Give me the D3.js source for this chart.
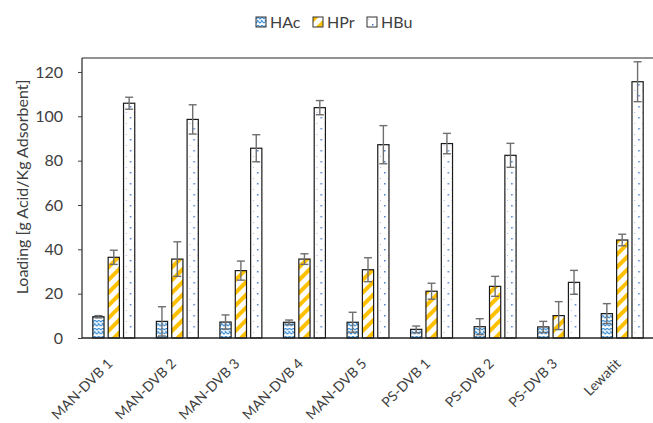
<!DOCTYPE html>
<html>
<head>
<meta charset="utf-8">
<script src="https://cdn.jsdelivr.net/npm/d3@7"></script>
<style>
  body { margin: 0; background: #fff; }
  text { font-family: Lato, "Open Sans", sans-serif; fill: #404040; }
</style>
</head>
<body>
<div id="chart"></div>
<script>
// data
let categories = ['MAN-DVB 1', 'MAN-DVB 2', 'MAN-DVB 3', 'MAN-DVB 4', 'MAN-DVB 5', 'PS-DVB 1', 'PS-DVB 2', 'PS-DVB 3', 'Lewatit'];
let seriesNames = ['HAc', 'HPr', 'HBu'];
let hac = [9.6, 7.5, 7.2, 7.1, 7.1, 3.9, 5.1, 5.0, 11.0];
let hpr = [36.4, 35.6, 30.4, 35.6, 30.8, 21.1, 23.3, 10.1, 44.2];
let hbu = [105.9, 98.6, 85.6, 103.9, 87.2, 87.7, 82.4, 25.1, 115.6];
let hacErr = [0.5, 6.6, 3.2, 1.0, 4.5, 1.5, 3.6, 2.5, 4.5];
let hprErr = [3.2, 7.8, 4.3, 2.4, 5.4, 3.6, 4.5, 6.3, 2.6];
let hbuErr = [2.7, 6.6, 6.1, 3.2, 8.6, 4.6, 5.4, 5.4, 9.0];
let yTicks = [0, 20, 40, 60, 80, 100, 120];

let width = 653, height = 423;
let margin = { top: 58, bottom: 85, left: 82, right: -1 };

let svg = d3.select('#chart')
  .append('svg')
  .attr('width', width)
  .attr('height', height);

// patterns
let defs = svg.append('defs');

let pAc = defs.append('pattern')
  .attr('id', 'pat-hac')
  .attr('patternUnits', 'userSpaceOnUse')
  .attr('width', 8).attr('height', 8);
pAc.append('rect').attr('width', 8).attr('height', 8).attr('fill', '#fff');
pAc.append('path')
  .attr('d', 'M0,2 L2,0 L4,2 L6,0 L8,2 M0,6 L2,4 L4,6 L6,4 L8,6 M1,3 L3,5 M5,3 L7,5')
  .attr('stroke', '#3b8fd6').attr('stroke-width', 1.1).attr('fill', 'none');

let pPr = defs.append('pattern')
  .attr('id', 'pat-hpr')
  .attr('patternUnits', 'userSpaceOnUse')
  .attr('width', 9).attr('height', 9)
  .attr('patternTransform', 'rotate(45)');
pPr.append('rect').attr('width', 9).attr('height', 9).attr('fill', '#fff');
pPr.append('rect').attr('width', 4).attr('height', 9).attr('fill', '#ffc000');

let pBu = defs.append('pattern')
  .attr('id', 'pat-hbu')
  .attr('patternUnits', 'userSpaceOnUse')
  .attr('width', 8).attr('height', 11);
pBu.append('rect').attr('width', 8).attr('height', 11).attr('fill', '#fff');
pBu.append('rect').attr('x', 1).attr('y', 2).attr('width', 1).attr('height', 1).attr('fill', '#9fbde6');
pBu.append('rect').attr('x', 5).attr('y', 7).attr('width', 1.5).attr('height', 1.5).attr('fill', '#4a7fd0');

let fills = { HAc: 'url(#pat-hac)', HPr: 'url(#pat-hpr)', HBu: 'url(#pat-hbu)' };

// scales
let yScale = d3.scaleLinear()
  .domain([0, 126.3])
  .range([height - margin.bottom, margin.top]);

let x0 = d3.scaleBand()
  .domain(categories)
  .range([margin.left, width - margin.right])
  .paddingInner(0.34)
  .paddingOuter(0.17);

let x1 = d3.scaleBand()
  .domain(seriesNames)
  .range([0, x0.bandwidth()])
  .paddingInner(0.27);

let rows = categories.map(function(c, i) {
  return {
    cat: c,
    values: [
      { s: 'HAc', v: hac[i], e: hacErr[i] },
      { s: 'HPr', v: hpr[i], e: hprErr[i] },
      { s: 'HBu', v: hbu[i], e: hbuErr[i] }
    ]
  };
});

// frame top line
svg.append('line')
  .attr('x1', margin.left).attr('x2', width)
  .attr('y1', margin.top).attr('y2', margin.top)
  .attr('stroke', '#262626').attr('stroke-width', 1.2);

// bars
let groups = svg.selectAll('g.grp')
  .data(rows)
  .enter()
  .append('g')
    .attr('class', 'grp')
    .attr('transform', d => `translate(${x0(d.cat)},0)`);

groups.selectAll('rect')
  .data(d => d.values)
  .enter()
  .append('rect')
    .attr('x', d => x1(d.s))
    .attr('y', d => yScale(d.v))
    .attr('width', x1.bandwidth())
    .attr('height', d => yScale(0) - yScale(d.v))
    .attr('fill', d => fills[d.s])
    .attr('stroke', '#1a1a1a')
    .attr('stroke-width', 1.2);

// error bars
let err = groups.selectAll('g.err')
  .data(d => d.values)
  .enter()
  .append('g')
    .attr('class', 'err')
    .attr('stroke', '#6f6f6f')
    .attr('stroke-width', 1.4);

err.append('line')
  .attr('x1', d => x1(d.s) + x1.bandwidth() / 2)
  .attr('x2', d => x1(d.s) + x1.bandwidth() / 2)
  .attr('y1', d => yScale(Math.max(0, d.v - d.e)))
  .attr('y2', d => yScale(d.v + d.e));

err.append('line')
  .attr('x1', d => x1(d.s) + x1.bandwidth() / 2 - 4)
  .attr('x2', d => x1(d.s) + x1.bandwidth() / 2 + 4)
  .attr('y1', d => yScale(d.v + d.e))
  .attr('y2', d => yScale(d.v + d.e));

err.append('line')
  .attr('x1', d => x1(d.s) + x1.bandwidth() / 2 - 4)
  .attr('x2', d => x1(d.s) + x1.bandwidth() / 2 + 4)
  .attr('y1', d => yScale(Math.max(0, d.v - d.e)))
  .attr('y2', d => yScale(Math.max(0, d.v - d.e)));

// axes
let yAxis = svg.append('g')
  .attr('transform', `translate(${margin.left},0)`)
  .call(d3.axisLeft(yScale).tickValues(yTicks).tickSize(4).tickPadding(15).tickSizeOuter(0));
yAxis.select('.domain').attr('stroke', '#262626').attr('stroke-width', 1.2)
  .attr('d', `M0,${yScale(0)}V${margin.top}`);
yAxis.selectAll('.tick line').attr('stroke', '#404040');
yAxis.selectAll('.tick text').style('font-size', '16px').attr('fill', '#404040');

let xAxis = svg.append('g')
  .attr('transform', `translate(0,${yScale(0)})`)
  .call(d3.axisBottom(x0).tickSize(0).tickSizeOuter(0));
xAxis.select('.domain').attr('stroke', '#262626').attr('stroke-width', 1.5)
  .attr('d', `M${margin.left},0H${width}`);
xAxis.selectAll('.tick text')
  .style('font-size', '14px')
  .attr('fill', '#404040')
  .style('text-anchor', 'end')
  .attr('dx', '0')
  .attr('dy', '0.35em')
  .attr('transform', 'translate(-6,21) rotate(-45)');

// y label
svg.append('text')
  .attr('transform', 'translate(28,187) rotate(-90)')
  .attr('text-anchor', 'middle')
  .style('font-size', '16px')
  .text('Loading [g Acid/Kg Adsorbent]');

// legend
let legX = [256, 313, 367];
let leg = svg.selectAll('g.leg')
  .data(seriesNames)
  .enter()
  .append('g')
    .attr('class', 'leg')
    .attr('transform', (d, i) => `translate(${legX[i]},17)`);
leg.append('rect')
  .attr('width', 10).attr('height', 10)
  .attr('fill', d => fills[d])
  .attr('stroke', '#333').attr('stroke-width', 1);
leg.append('text')
  .attr('x', 14).attr('y', 10.5)
  .style('font-size', '16px')
  .text(d => d);
</script>
</body>
</html>
